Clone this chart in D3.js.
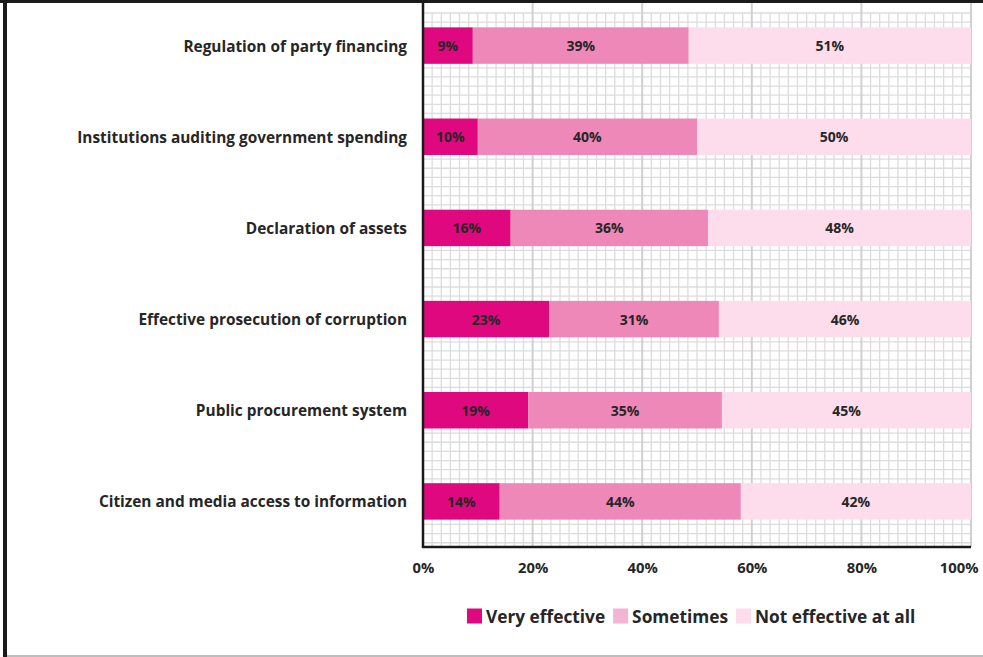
<!DOCTYPE html>
<html>
<head>
<meta charset="utf-8">
<script src="https://cdn.jsdelivr.net/npm/d3@7"></script>
<style>
  html, body { margin: 0; padding: 0; background: #fff; }
  svg { display: block; }
  text { font-family: "Open Sans", Lato, sans-serif; font-weight: 700; fill: #262626; }
</style>
</head>
<body>
<svg id="chart" width="983" height="657"></svg>
<script>
// Anti-corruption measures and how effective they are judged to be (shares in %)
const categories = [
  "Regulation of party financing",
  "Institutions auditing government spending",
  "Declaration of assets",
  "Effective prosecution of corruption",
  "Public procurement system",
  "Citizen and media access to information"
];
const seriesNames = ["Very effective", "Sometimes", "Not effective at all"];
const veryEffective = [9, 10, 16, 23, 19, 14];
const sometimes = [39, 40, 36, 31, 35, 44];
const notEffective = [51, 50, 48, 46, 45, 42];
const tickValues = [0, 0.2, 0.4, 0.6, 0.8, 1];
const tickLabels = ["0%", "20%", "40%", "60%", "80%", "100%"];

const barColors = ["#E0087F", "#EE88B8", "#FDDCEB"];
const legendColors = ["#E0087F", "#F4B4D4", "#FDDCEB"];

const rows = categories.map((c, i) => ({
  category: c,
  [seriesNames[0]]: veryEffective[i],
  [seriesNames[1]]: sometimes[i],
  [seriesNames[2]]: notEffective[i]
}));

const svg = d3.select("#chart");
const W = 983, H = 657;
const plot = { left: 423, right: 971, top: 0, bottom: 547 };
const gridTop = 13;
const FONT = "'Open Sans', Lato, sans-serif";

const x = d3.scaleLinear().domain([0, 1]).range([plot.left, plot.right]);
// Categories listed top to bottom
const y = d3.scaleBand().domain(categories).range([plot.top, plot.bottom]).paddingInner(0.6).paddingOuter(0.3);

// 100% stacked layout: each row normalised to its total
const stack = d3.stack().keys(seriesNames).offset(d3.stackOffsetExpand);
const layers = stack(rows);

// Fine background grid
const g = svg.append("g");
const minorStep = x(1 / 60) - x(0);
const minorX = d3.range(1, 60).filter(i => i % 12 !== 0).map(i => i / 60);
g.selectAll("line.vminor").data(minorX).join("line")
  .attr("x1", d => x(d)).attr("x2", d => x(d))
  .attr("y1", gridTop).attr("y2", plot.bottom)
  .attr("stroke", "#dcdcdc").attr("stroke-width", 1.3);
const minorY = d3.range(gridTop, plot.bottom - 2, minorStep);
g.selectAll("line.hminor").data(minorY).join("line")
  .attr("x1", plot.left).attr("x2", plot.right)
  .attr("y1", d => d).attr("y2", d => d)
  .attr("stroke", "#dcdcdc").attr("stroke-width", 1.3);
// Major gridlines every 20%
g.selectAll("line.major").data(tickValues.slice(1)).join("line")
  .attr("x1", d => x(d)).attr("x2", d => x(d))
  .attr("y1", 0).attr("y2", plot.bottom)
  .attr("stroke", "#d0d0d0").attr("stroke-width", 2);

// Bars
const bars = svg.append("g");
layers.forEach((layer, li) => {
  bars.selectAll(null).data(layer).join("rect")
    .attr("x", d => x(d[0]))
    .attr("width", d => x(d[1]) - x(d[0]))
    .attr("y", d => y(d.data.category))
    .attr("height", y.bandwidth())
    .attr("fill", barColors[li]);
  bars.selectAll(null).data(layer).join("text")
    .attr("x", d => (x(d[0]) + x(d[1])) / 2)
    .attr("y", d => y(d.data.category) + y.bandwidth() / 2)
    .attr("text-anchor", "middle")
    .attr("dominant-baseline", "central")
    .attr("font-size", 14)
    .text(d => d.data[layer.key] + "%");
});

// Axis lines
svg.append("line").attr("x1", plot.left).attr("x2", plot.left)
  .attr("y1", 0).attr("y2", plot.bottom + 1)
  .attr("stroke", "#1a1a1a").attr("stroke-width", 2.5);
svg.append("line").attr("x1", plot.left - 1).attr("x2", plot.right)
  .attr("y1", plot.bottom).attr("y2", plot.bottom)
  .attr("stroke", "#1a1a1a").attr("stroke-width", 2.5);

// Category labels
const yAxis = d3.axisLeft(y).tickSize(0).tickPadding(16);
const ya = svg.append("g").attr("transform", `translate(${plot.left},0)`).call(yAxis);
ya.select(".domain").remove();
ya.selectAll("text").attr("font-size", 15.4).style("font-family", FONT)
  .style("font-weight", 700).attr("fill", "#262626").attr("dy", "0.39em");

// Percentage axis labels
const xAxis = d3.axisBottom(x).tickValues(tickValues).tickSize(0).tickPadding(15)
  .tickFormat((d, i) => tickLabels[i]);
const xa = svg.append("g").attr("transform", `translate(0,${plot.bottom})`).call(xAxis);
xa.select(".domain").remove();
xa.selectAll("text").attr("font-size", 14.8).style("font-family", FONT)
  .style("font-weight", 700).attr("fill", "#262626");
// keep the last label inside the frame
xa.selectAll(".tick").filter(d => d === 1).select("text")
  .attr("text-anchor", "end").attr("x", W - 5 - x(1));

// Legend: swatch, label, then the next entry
const legend = svg.append("g");
const legendY = 616;
let lx = 467;
seriesNames.forEach((name, i) => {
  legend.append("rect").attr("x", lx).attr("y", legendY - 7.5).attr("width", 15).attr("height", 15)
    .attr("fill", legendColors[i]);
  const t = legend.append("text").attr("x", lx + 19).attr("y", legendY)
    .attr("dominant-baseline", "central").attr("font-size", 17.3).text(name);
  lx += 19 + t.node().getComputedTextLength() + 8;
});

// Frame
svg.append("rect").attr("x", 0).attr("y", 0).attr("width", W).attr("height", 3).attr("fill", "#1a1a1a");
svg.append("rect").attr("x", 3).attr("y", 0).attr("width", 4).attr("height", H).attr("fill", "#1a1a1a");
svg.append("rect").attr("x", 7).attr("y", H - 2).attr("width", W - 7).attr("height", 2).attr("fill", "#bdbdbd");
</script>
</body>
</html>
